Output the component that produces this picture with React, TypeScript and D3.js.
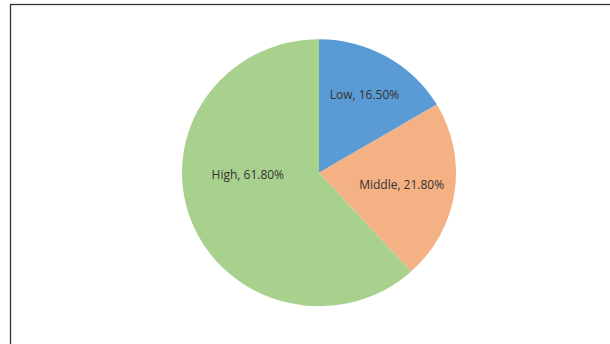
import React from "react";
import * as d3 from "d3";

const categories = ["Low", "Middle", "High"];
const values = [16.5, 21.8, 61.8];
const colors = ["#5B9BD5", "#F4B183", "#A9D18E"];
const labelTexts = ["Low,  16.50%", "Middle, 21.80%", "High, 61.80%"];

// label placement (layout): radius fraction and angle override (degrees, null => centroid)
const labelRadius = [0.67, 0.61, 0.52];
const labelAngle: (number | null)[] = [null, null, 268.4];

const W = 610;
const H = 344;
const cx = 319;
const cy = 172.7;
const R = 137;
const ry = 133.5;

export default function App() {
  const pie = d3
    .pie<number>()
    .sort(null)
    .value((d) => d)
    .startAngle(0)
    .endAngle(2 * Math.PI);
  const arcs = pie(values);
  const arc = d3.arc<d3.PieArcDatum<number>>().innerRadius(0).outerRadius(R);
  const sy = ry / R;

  return (
    <svg
      width={W}
      height={H}
      style={{ position: "absolute", left: 0, top: 0, background: "#fff" }}
    >
      <rect x={10.5} y={4.5} width={W + 20} height={H + 20} fill="#fff" stroke="#333" strokeWidth={1.3} />
      <g transform={`translate(${cx},${cy}) scale(1,${sy})`}>
        {arcs.map((a, i) => (
          <path key={categories[i]} d={arc(a) || ""} fill={colors[i]} />
        ))}
      </g>
      <g transform={`translate(${cx},${cy})`}>
        {arcs.map((a, i) => {
          const ang =
            labelAngle[i] !== null
              ? ((labelAngle[i] as number) * Math.PI) / 180
              : (a.startAngle + a.endAngle) / 2;
          const d = R * labelRadius[i];
          const x = Math.sin(ang) * d;
          const y = -Math.cos(ang) * d * sy;
          return (
            <text
              key={categories[i]}
              x={x}
              y={y}
              textAnchor="middle"
              dominantBaseline="central"
              fontFamily="'Open Sans', 'Liberation Sans', sans-serif"
              fontSize={12}
              fill="#333"
            >
              {labelTexts[i]}
            </text>
          );
        })}
      </g>
    </svg>
  );
}
